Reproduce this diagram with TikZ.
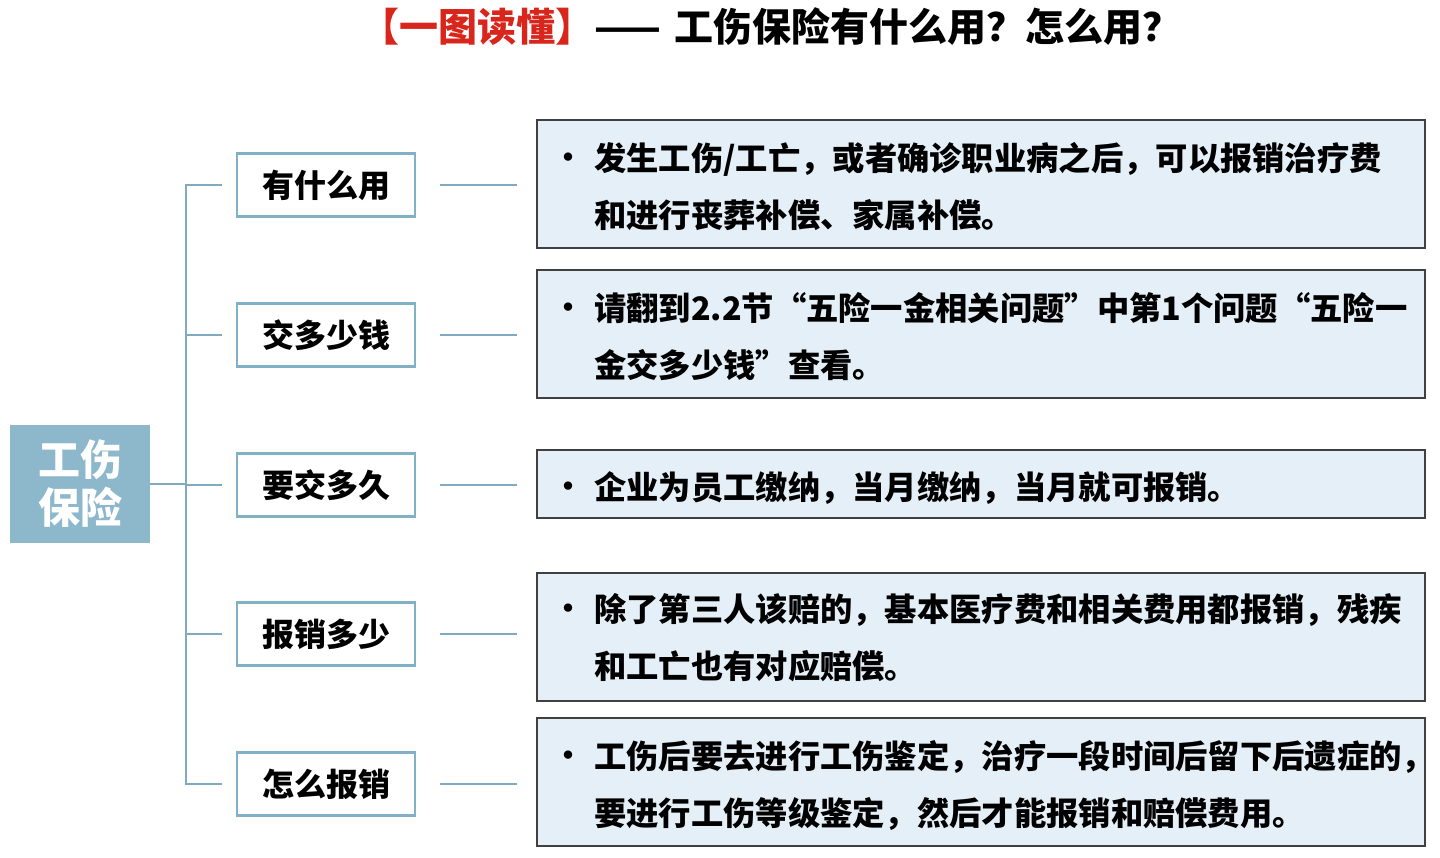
\documentclass[tikz,border=0pt]{standalone}
\usepackage{fontspec}
\setmainfont{Noto Sans CJK SC}
\newfontfamily\cjk{Noto Sans CJK SC}
\begin{document}
\begin{tikzpicture}[x=1pt,y=-1pt,
  conn/.style={draw=linec,line width=2.5pt},
  midbox/.style={draw=midc,line width=2.5pt,minimum width=178pt,minimum height=63pt,font=\bfseries\fontsize{32}{34}\selectfont,inner sep=0pt},
  rbox/.style={draw=black!75,line width=2pt,fill=rfill},
  bul/.style={font=\bfseries\fontsize{30}{30}\selectfont,anchor=center},
  rtext/.style={anchor=north west,align=left,inner sep=0pt,font=\bfseries\fontsize{32.3}{57}\selectfont}]
\definecolor{linec}{HTML}{7FAAC0}
\definecolor{midc}{HTML}{82B0C5}
\definecolor{rfill}{HTML}{E4EFF7}
\definecolor{rootc}{HTML}{8DB8CC}
\definecolor{titr}{HTML}{D9261C}
\useasboundingbox (0,0) rectangle (1440,858);
\fill[white] (0,0) rectangle (1440,858);
% title
\node[anchor=west,inner sep=0pt,font=\bfseries\fontsize{39}{39}\selectfont] (title) at (360,27)
  {\textcolor{titr}{【一图读懂】}——\,\,工伤保险有什么用？怎么用？};
% root
\node[fill=rootc,minimum width=140pt,minimum height=118pt,text=white,align=center,
  font=\bfseries\fontsize{42}{48}\selectfont,inner sep=0pt] (root) at (80,484) {工伤\\保险};
% mid boxes
\node[midbox] (m1) at (326,185) {有什么用};
\node[midbox] (m2) at (326,335) {交多少钱};
\node[midbox] (m3) at (326,485) {要交多久};
\node[midbox] (m4) at (326,634) {报销多少};
\node[midbox] (m5) at (326,784) {怎么报销};
% trunk
\coordinate (tt) at (186,185);
\coordinate (tb) at (186,784);
\coordinate (tm) at (186,484);
\draw[conn] (root.east |- tm) -- (tm);
\draw[conn] (222,185) -- (tt) -- (tb) -- (222,784);
\foreach \y in {335,485,634} \draw[conn] (186,\y) -- (222,\y);
% right boxes
\draw[rbox] (537,120) rectangle (1425,248);
\draw[rbox] (537,270) rectangle (1425,398);
\draw[rbox] (537,450) rectangle (1425,518);
\draw[rbox] (537,573) rectangle (1425,701);
\draw[rbox] (537,718) rectangle (1425,846);
% connectors
\foreach \y in {185,335,485,634,784} \draw[conn] (440,\y) -- (517,\y);
% texts
\foreach \y in {161,311,490,612,759} \node[bul] at (568,\y) {•};
\node[rtext] (t1) at (594,142) {发生工伤/工亡，或者确诊职业病之后，可以报销治疗费\\和进行丧葬补偿、家属补偿。};
\node[rtext] (t2) at (594,292) {请翻到2.2节“五险一金相关问题”中第1个问题“五险一\\金交多少钱”查看。};
\node[rtext] (t3) at (594,471) {企业为员工缴纳，当月缴纳，当月就可报销。};
\node[rtext] (t4) at (594,593) {除了第三人该赔的，基本医疗费和相关费用都报销，残疾\\和工亡也有对应赔偿。};
\node[rtext] (t5) at (594,740) {工伤后要去进行工伤鉴定，治疗一段时间后留下后遗症的，\\要进行工伤等级鉴定，然后才能报销和赔偿费用。};
\end{tikzpicture}
\end{document}
